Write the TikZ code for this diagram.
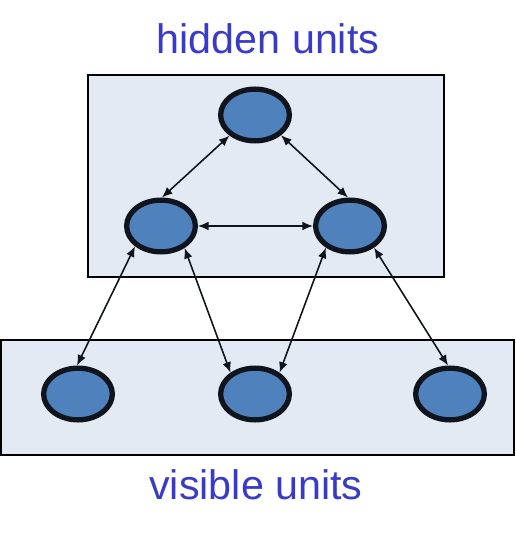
\documentclass[tikz,border=0pt]{standalone}
\usepackage{fontspec}
\setmainfont{Liberation Sans}
\usepackage{tikz}
\usetikzlibrary{arrows.meta, shapes.geometric}
\usepackage{xcolor}
\definecolor{unitblue}{HTML}{4F81BD}
\definecolor{layerbg}{HTML}{E4EAF4}
\definecolor{labelblue}{HTML}{3A3AC8}
\definecolor{edgeblack}{HTML}{10141C}
\tikzset{%
	every unit/.style={
		ellipse,
		draw=edgeblack,
		fill=unitblue,
		line width=3pt,
		inner sep=0pt,
		minimum width=1.375cm,
		minimum height=1.035cm
	},
	layer box/.style={
		draw=black,
		fill=layerbg,
		line width=1.1pt
	},
	layer label/.style={
		anchor=base,
		text=labelblue,
		font=\fontsize{23.5}{28}\selectfont
	},
	link/.style={
		<->,
		draw=edgeblack,
		line width=0.9pt
	},
}

\begin{document}
\begin{tikzpicture}[
				x=0.02cm, y=-0.02cm,
				>={Latex[length=6pt,width=5pt]}
				]
				\useasboundingbox (0,0) rectangle (515,533);
				
				% layers
				\draw[layer box] (88,75) rectangle (444,277);
				\draw[layer box] (1,340) rectangle (514,455);
				\node[layer label] (hlabel) at (268,54) {hidden units};
				\node[layer label] (vlabel) at (256,499) {visible units};
				
				% hidden units
				\node[every unit] (ht) at (255,115) {};
				\node[every unit] (hl) at (161,226) {};
				\node[every unit] (hr) at (350,226) {};
				
				% visible units
				\node[every unit] (vl) at (78,394) {};
				\node[every unit] (vm) at (255,394) {};
				\node[every unit] (vr) at (450,394) {};
				
				% connections
				\draw[link] (ht.-141) -- (hl.88);
				\draw[link] (ht.-38) -- (hr.94);
				\draw[link] (hl.0) -- (hr.180);
				\draw[link] (hl.-142) -- (vl.92);
				\draw[link] (hl.-43) -- (vm.139);
				\draw[link] (hr.-138) -- (vm.41);
				\draw[link] (hr.-42) -- (vr.94);
				
			\end{tikzpicture}
\end{document}
